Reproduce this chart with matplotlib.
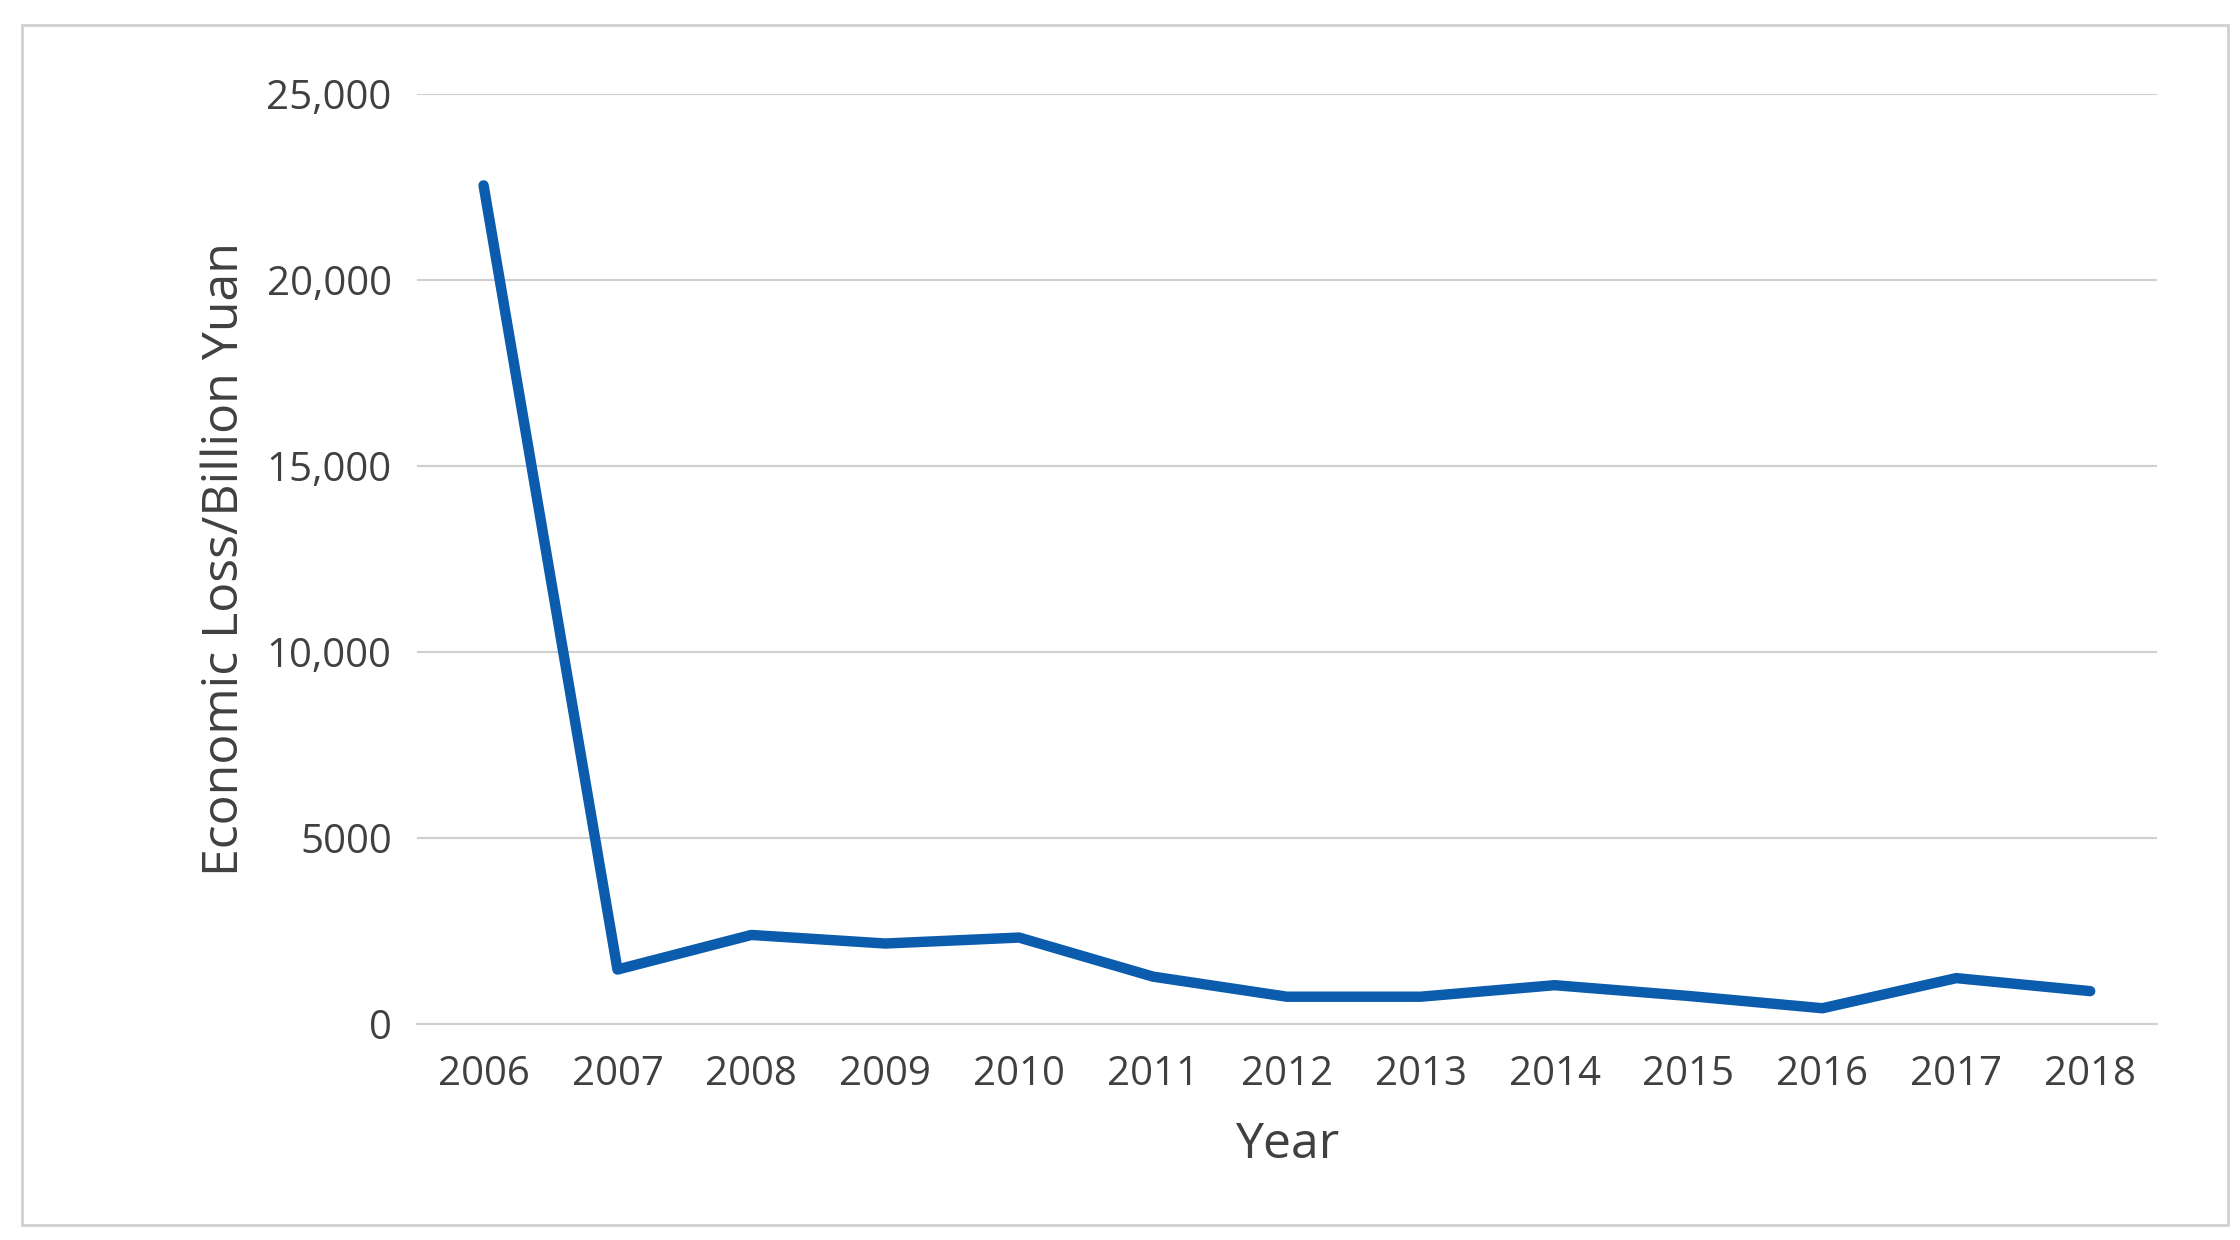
import matplotlib
matplotlib.use("Agg")
import matplotlib.pyplot as plt
from matplotlib.patches import Rectangle

years = ["2006","2007","2008","2009","2010","2011","2012","2013","2014","2015","2016","2017","2018"]
loss = [22550, 1470, 2400, 2170, 2330, 1280, 740, 740, 1050, 760, 430, 1240, 890]
yticks = [0, 5000, 10000, 15000, 20000, 25000]
ytick_labels = ["0", "5000", "10,000", "15,000", "20,000", "25,000"]

plt.rcParams['font.family'] = ['Open Sans', 'DejaVu Sans']
fig = plt.figure(figsize=(22.4, 12.4), dpi=100)
fig.patches.append(Rectangle((0.0096, 0.012), 0.985, 0.968, transform=fig.transFigure,
                             fill=False, edgecolor='#d0d0d0', linewidth=2))
ax = fig.add_axes([0.186, 0.174, 0.777, 0.75])
x = list(range(len(years)))
ax.plot(x, loss, color='#0b5cad', linewidth=7.5, solid_joinstyle='round', solid_capstyle='round')
ax.set_xlim(-0.5, len(years) - 0.5)
ax.set_ylim(0, 25000)
ax.set_yticks(yticks)
ax.set_yticklabels(ytick_labels)
ax.set_xticks(x)
ax.set_xticklabels(years)
ax.grid(axis='y', color='#d0d0d0', linewidth=1.5)
ax.set_axisbelow(True)
for s in ['top', 'right', 'left']:
    ax.spines[s].set_visible(False)
ax.spines['bottom'].set_color('#d0d0d0')
ax.spines['bottom'].set_linewidth(1.5)
ax.tick_params(axis='both', length=0, labelsize=29, colors='#404040', pad=18)
ax.tick_params(axis='x', pad=22)
ax.set_xlabel("Year", fontsize=36, color='#404040', labelpad=18)
ax.set_ylabel("Economic Loss/Billion Yuan", fontsize=36, color='#404040', labelpad=12)
fig.savefig("out.png", dpi=100)
